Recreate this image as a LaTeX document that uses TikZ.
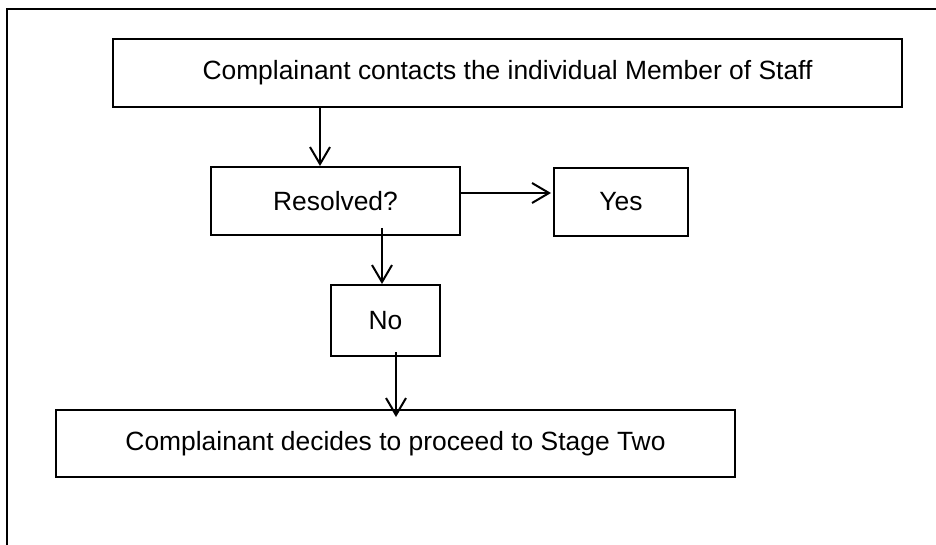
\documentclass[tikz,border=0pt]{standalone}
\usepackage{fontspec}
\setmainfont{Liberation Sans}
\usetikzlibrary{arrows.meta}

\begin{document}
\begin{tikzpicture}[x=1pt,y=-1pt,line width=2pt,
		box/.style={draw,line width=2pt,inner sep=0pt,font=\fontsize{26.4}{32}\selectfont},
		>={Straight Barb[length=17pt,width=20pt]}]
	\useasboundingbox (0,0) rectangle (936,545);
	\draw (7,545) -- (7,9) -- (936,9);
	\node[box,minimum width=789pt,minimum height=68pt] (contact) at (507.5,73) {Complainant contacts the individual Member of Staff};
	\node[box,minimum width=249pt,minimum height=68pt] (resolved) at (335.5,201) {Resolved?};
	\node[box,minimum width=134pt,minimum height=68pt] (yes) at (621,202) {Yes};
	\node[box,minimum width=109pt,minimum height=71pt] (no) at (385.5,320.5) {No};
	\node[box,minimum width=679pt,minimum height=67pt] (stagetwo) at (395.5,443.5) {Complainant decides to proceed to Stage Two};
	\coordinate (a) at (320,0);
	\coordinate (b) at (0,193);
	\coordinate (c) at (382,0);
	\coordinate (d) at (396,0);
	\path[->]
	(contact.south -| a) edge (resolved.north -| a)
	(resolved.east |- b) edge ([xshift=-2pt]yes.west |- b)
	([yshift=8pt]resolved.south -| c) edge (no.north -| c)
	([yshift=5pt]no.south -| d) edge ([yshift=-8pt]stagetwo.north -| d);
\end{tikzpicture}
\end{document}
